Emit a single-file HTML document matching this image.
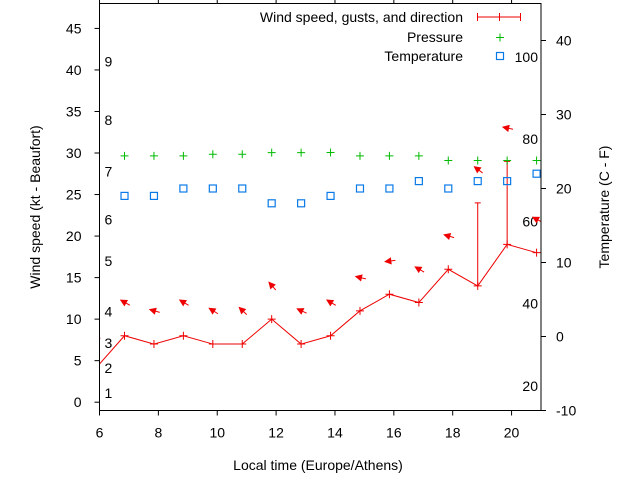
<!DOCTYPE html>
<html><head><meta charset="utf-8"><style>
body{margin:0;background:#fff}
svg{display:block;font-family:"Liberation Sans",sans-serif;font-size:14px}
</style></head><body>
<svg id="chart" width="640" height="480" viewBox="0 0 640 480" xmlns="http://www.w3.org/2000/svg">
<rect x="0" y="0" width="640" height="480" fill="#fff"/>
<g id="grid"></g>
<g id="marks"></g>
<rect x="99.5" y="3.5" width="441.5" height="407" fill="none" stroke="#000" stroke-width="1"/>
<text transform="translate(40,207) rotate(-90)" text-anchor="middle" font-size="14">Wind speed (kt - Beaufort)</text>
<text transform="translate(609,207) rotate(-90)" text-anchor="middle" font-size="14">Temperature (C - F)</text>
<text x="318" y="470" text-anchor="middle" font-size="14">Local time (Europe/Athens)</text>
<g>
<text x="463" y="22" text-anchor="end" font-size="14">Wind speed, gusts, and direction</text>
<line x1="477" y1="17" x2="521" y2="17" stroke="#e00" stroke-width="1"/>
<line x1="477.5" y1="13" x2="477.5" y2="21" stroke="#e00"/>
<line x1="520.5" y1="13" x2="520.5" y2="21" stroke="#e00"/>
<line x1="499.5" y1="13" x2="499.5" y2="21" stroke="#e00"/>
<text x="463" y="42" text-anchor="end" font-size="14">Pressure</text>
<path d="M496 37.5h8M500 33.5v8" stroke="#0b0" stroke-width="1"/>
<text x="463" y="61" text-anchor="end" font-size="14">Temperature</text>
<rect x="496.5" y="52.5" width="7" height="7" fill="none" stroke="#0a7ae8" stroke-width="1.2"/>
</g>
</svg>
<script>
const times = [5.85,6.85,7.85,8.85,9.85,10.85,11.85,12.85,13.85,14.85,15.85,16.85,17.85,18.85,19.85,20.85];
const windKt = [4,8,7,8,7,7,10,7,8,11,13,12,16,14,19,18];
const gustKt = [4,8,7,8,7,7,10,7,8,11,13,12,16,24,29,18];
const arrowAngleDeg = [30,29,16,31,32,44,49,25,31,13,-7,30,16,37,12,28];
const pressure = [null,29.65,29.65,29.65,29.85,29.85,30.05,30.05,30.06,29.65,29.65,29.65,29.1,29.1,29.1,29.1];
const tempC = [null,19,19,20,20,20,18,18,19,20,20,21,20,21,21,22];
const xTicks = [6,8,10,12,14,16,18,20];
const yTicks = [0,5,10,15,20,25,30,35,40,45];
const y2Ticks = [-10,0,10,20,30,40];
const beaufortLabels = ["1","2","3","4","5","6","7","8","9"];
const beaufortKt = [1.1,4.1,7.1,10.9,17,22,27.8,34,41];
const fahrenheitLabels = [20,40,60,80,100];

const L=99.5,R=541,T=3.5,B=410.5;
const X=v=>L+(v-6)*(R-L)/15;
const Y=v=>B-(v+1)*(B-T)/49;
const Y2=v=>B-(v+10)*(B-T)/55;
const NS="http://www.w3.org/2000/svg";
const grid=document.getElementById('grid'), marks=document.getElementById('marks');
function el(tag,attrs,parent,text){const e=document.createElementNS(NS,tag);for(const k in attrs)e.setAttribute(k,attrs[k]);if(text!==undefined)e.textContent=text;parent.appendChild(e);return e;}

xTicks.forEach(t=>{
  const g=el('g',{},grid);
  
  
  el('line',{x1:X(t),x2:X(t),y1:B,y2:B+5,stroke:'#000'},g);
  el('line',{x1:X(t),x2:X(t),y1:T,y2:T-5,stroke:'#000'},g);
  el('text',{x:X(t),y:B+27,'text-anchor':'middle'},g,String(t));
});
yTicks.forEach(t=>{
  const g=el('g',{},grid);
  
  
  el('line',{x1:L-5,x2:L,y1:Y(t),y2:Y(t),stroke:'#000'},g);
  el('text',{x:L-18,y:Y(t)+5,'text-anchor':'end'},g,String(t));
});
y2Ticks.forEach(t=>{
  const g=el('g',{},grid);
  
  
  el('line',{x1:R,x2:R+5,y1:Y2(t),y2:Y2(t),stroke:'#000'},g);
  el('text',{x:R+15,y:Y2(t)+5,'text-anchor':'start'},g,String(t));
});
beaufortLabels.forEach((b,i)=>{
  const e=el('text',{x:L+5,y:Y(beaufortKt[i])+5},grid,b);
  
  
});
fahrenheitLabels.forEach(f=>{
  const e=el('text',{x:R-3,y:Y2((f-32)*5/9)+5,'text-anchor':'end'},grid,String(f));
  
  
});

el('clipPath',{id:'clip'},marks);
el('rect',{x:L,y:T,width:R-L,height:B-T},document.getElementById('clip'));
const mg=el('g',{'clip-path':'url(#clip)'},marks);

const wl=el('polyline',{points:times.map((t,i)=>X(t)+','+Y(windKt[i])).join(' '),fill:'none',stroke:'#e00','stroke-width':1},mg);


times.forEach((t,i)=>{
  const x=X(t),y=Y(windKt[i]);
  const p=el('path',{d:`M${x-4} ${y}h8M${x} ${y-4}v8`,stroke:'#e00','stroke-width':1},mg);
  
  
  if(gustKt[i]>windKt[i]){
    const gy=Y(gustKt[i]);
    const e=el('path',{d:`M${x} ${y}V${gy}M${x-3} ${gy}h6`,stroke:'#e00','stroke-width':1},mg);
    
    
  }
  const a=arrowAngleDeg[i]*Math.PI/180, cy=Y(gustKt[i]+4), cx=x+0.5;
  const dx=Math.cos(a), dy=Math.sin(a);
  const hx=cx-5*dx, hy=cy-5*dy, tx=cx+5.5*dx, ty=cy+5.5*dy;
  const px=-dy, py=dx;
  const ag=el('g',{},mg);
  
  
  el('line',{x1:tx,y1:ty,x2:hx,y2:hy,stroke:'#e00','stroke-width':1},ag);
  el('polygon',{points:`${hx},${hy} ${hx+6*dx+3*px},${hy+6*dy+3*py} ${hx+6*dx-3*px},${hy+6*dy-3*py}`,fill:'#e00',stroke:'#e00','stroke-width':0.8},ag);
});
times.forEach((t,i)=>{
  if(pressure[i]===null)return;
  const x=X(t),y=Y(pressure[i]);
  const p=el('path',{d:`M${x-4} ${y}h8M${x} ${y-4}v8`,stroke:'#0b0','stroke-width':1},mg);
  
  
});
times.forEach((t,i)=>{
  if(tempC[i]===null)return;
  const x=X(t),y=Y2(tempC[i]);
  const r=el('rect',{x:x-3.5,y:y-3.5,width:7,height:7,fill:'none',stroke:'#0a7ae8','stroke-width':1.2},mg);
  
  
});
</script>
</body></html>
